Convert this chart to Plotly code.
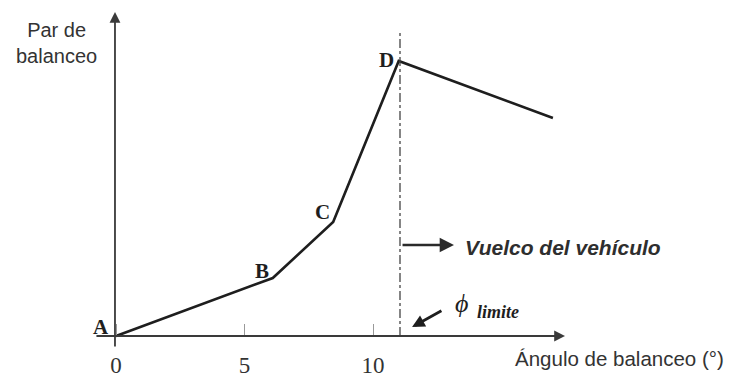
import plotly.graph_objects as go

# Roll moment curve: angle (deg) vs. roll moment (arbitrary units)
angle = [0, 6.1, 8.45, 11.0, 17.0]
par = [0, 5.8, 11.4, 27.5, 21.8]
point_names = ["A", "B", "C", "D"]
phi_limite = 11.05
tick_values = [0, 5, 10]
tick_labels = ["0", "5", "10"]

X_RANGE = [-4.514, 24.163]
Y_RANGE = [-4.2, 33.6]

fig = go.Figure()

fig.add_trace(go.Scatter(
    x=angle, y=par, mode="lines",
    line=dict(color="#1e1e1e", width=2.6),
    hoverinfo="skip", showlegend=False,
))

# point letters beside each vertex
shifts = [(-15, 9), (-11, 7), (-11, 10), (-12, 1)]
for name, xv, yv, (dx, dy) in zip(point_names, angle, par, shifts):
    fig.add_annotation(
        x=xv, y=yv, text=f"<b>{name}</b>", showarrow=False,
        xshift=dx, yshift=dy,
        font=dict(family="Liberation Serif", size=21, color="#1e1e1e"),
    )

# axes with arrowheads
axis_color = "#3a3a3a"
fig.add_annotation(x=17.47, y=0, ax=-0.82, ay=0, xref="x", yref="y",
                   axref="x", ayref="y", text="", showarrow=True,
                   arrowhead=2, arrowsize=1.2, arrowwidth=1.8,
                   arrowcolor=axis_color)
fig.add_annotation(x=-0.04, y=32.4, ax=-0.04, ay=-1.2, xref="x", yref="y",
                   axref="x", ayref="y", text="", showarrow=True,
                   arrowhead=2, arrowsize=1.2, arrowwidth=1.8,
                   arrowcolor=axis_color)

# limit angle line
fig.add_shape(type="line", x0=phi_limite, x1=phi_limite, y0=0, y1=30.3,
              xref="x", yref="y",
              line=dict(color="#444444", width=1.3, dash="dashdot"))

# rollover arrow and label
fig.add_annotation(x=13.15, y=9.1, ax=11.09, ay=9.1, xref="x", yref="y",
                   axref="x", ayref="y", text="", showarrow=True,
                   arrowhead=2, arrowsize=1.1, arrowwidth=2.6,
                   arrowcolor="#2a2a2a")
fig.add_annotation(x=13.5, y=8.9, text="<b><i>Vuelco del vehículo</i></b>",
                   showarrow=False, xanchor="left",
                   font=dict(family="Liberation Sans", size=21, color="#2e2e2e"))

# phi limit marker
fig.add_annotation(x=11.52, y=0.9, ax=12.72, ay=2.6, xref="x", yref="y",
                   axref="x", ayref="y", text="", showarrow=True,
                   arrowhead=2, arrowsize=0.9, arrowwidth=2.8,
                   arrowcolor="#1e1e1e")
fig.add_annotation(x=13.46, y=3.3, text="<i>ϕ</i>", showarrow=False,
                   font=dict(family="Liberation Serif", size=26, color="#1e1e1e"))
fig.add_annotation(x=13.97, y=2.4, text="<b><i>limite</i></b>", showarrow=False,
                   xanchor="left",
                   font=dict(family="Liberation Serif", size=18, color="#1e1e1e"))

# axis titles
fig.add_annotation(x=15.45, y=-2.2, text="Ángulo de balanceo (°)",
                   showarrow=False, xanchor="left",
                   font=dict(family="Liberation Sans", size=20.5, color="#333333"))
fig.add_annotation(x=-2.3, y=29.3, text="Par de<br>balanceo",
                   showarrow=False, align="center",
                   font=dict(family="Liberation Sans", size=20, color="#333333"))

fig.update_layout(
    width=737, height=378,
    margin=dict(l=0, r=0, t=0, b=0),
    paper_bgcolor="white", plot_bgcolor="white",
    xaxis=dict(
        range=X_RANGE, showgrid=False, zeroline=False, showline=False,
        anchor="free", position=(378 - 336) / 378, side="bottom",
        tickvals=tick_values, ticktext=tick_labels,
        ticks="inside", ticklen=12, tickwidth=1, tickcolor="#999999",
        ticklabelstandoff=13,
        tickfont=dict(family="Liberation Serif", size=23, color="#333333"),
        automargin=False, fixedrange=True,
    ),
    yaxis=dict(
        range=Y_RANGE, showgrid=False, zeroline=False, showline=False,
        showticklabels=False, ticks="", automargin=False, fixedrange=True,
    ),
)

fig.write_html("out.html")
